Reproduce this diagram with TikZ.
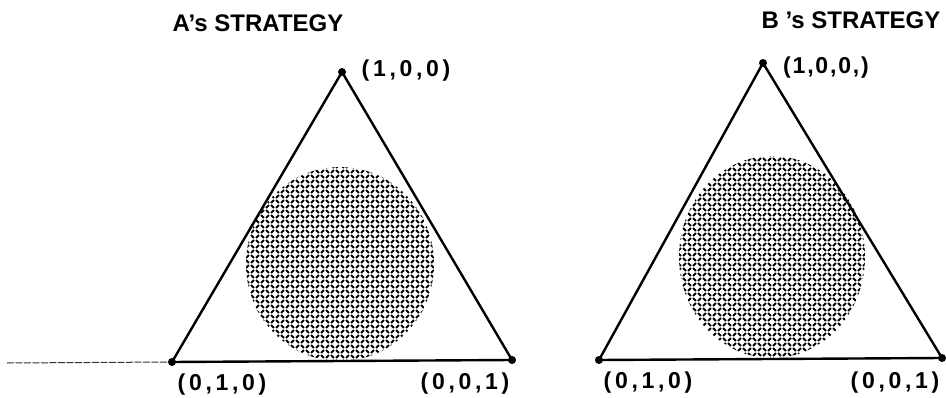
\documentclass[tikz,border=0pt]{standalone}
\usepackage{fontspec}
\setmainfont{Liberation Sans}
\newfontfamily\lblfont[LetterSpace=16]{Liberation Sans}
\newfontfamily\lblfontb[LetterSpace=8]{Liberation Sans}

% cross-hatched oval region: centre x, centre y, x radius, y radius
\newcommand\hatchdisc[4]{%
  \begin{scope}
    \clip (#1,#2) ellipse [x radius=#3pt, y radius=#4pt];
    \begin{scope}[shift={(#1,#2)}, rotate=45]
      \foreach \k in {-16,...,16}{
        \draw[hatch] (-113.12,\k*7.07) -- (113.12,\k*7.07);
        \draw[hatch] (\k*7.07,-113.12) -- (\k*7.07,113.12);
      }
    \end{scope}
  \end{scope}}

\begin{document}
\begin{tikzpicture}[x=1pt,y=-1pt,
  dot/.style={circle,fill=black,inner sep=0pt,minimum size=8pt},
  edge/.style={line width=2.4pt,line join=round},
  hatch/.style={line width=1.9pt,dash pattern=on 4.2pt off 2.87pt,dash phase=5.635pt},
  title/.style={font=\fontsize{24}{26}\selectfont\bfseries},
  vlabel/.style={font=\fontsize{23}{25}\selectfont\lblfont\bfseries},
  vlabelb/.style={font=\fontsize{23}{25}\selectfont\lblfontb\bfseries},
  tailline/.style={line width=1pt,black!80,dash pattern=on 7pt off 1.5pt}]
\useasboundingbox (0,0) rectangle (946,398);

% shaded regions
\hatchdisc{340}{264}{94}{97}
\hatchdisc{772}{257}{93}{101}

% left simplex
\node[dot] (a1) at (342,72) {};
\node[dot] (a2) at (172,362) {};
\node[dot] (a3) at (512,360) {};
\draw[edge] (a1.center) -- (a2.center) -- (a3.center) -- cycle;
\coordinate (tail) at (7,363);
\draw[tailline] (tail) -- (a2);

% right simplex
\node[dot] (b1) at (763,63) {};
\node[dot] (b2) at (599,360) {};
\node[dot] (b3) at (942,358) {};
\draw[edge] (b1.center) -- (b2.center) -- (b3.center) -- cycle;

% titles
\node[title] (ta) at (258,23) {A’s STRATEGY};
\node[title] (tb) at (851,20) {B ’s STRATEGY};

% vertex labels
\node[vlabel] (la1) at (406,71) {(1,0,0)};
\node[vlabel] (la2) at (222,385) {(0,1,0)};
\node[vlabel] (la3) at (465,384) {(0,0,1)};
\node[vlabelb] (lb1) at (826,68) {(1,0,0,)};
\node[vlabel] (lb2) at (648,383) {(0,1,0)};
\node[vlabel] (lb3) at (895,383) {(0,0,1)};
\end{tikzpicture}
\end{document}
